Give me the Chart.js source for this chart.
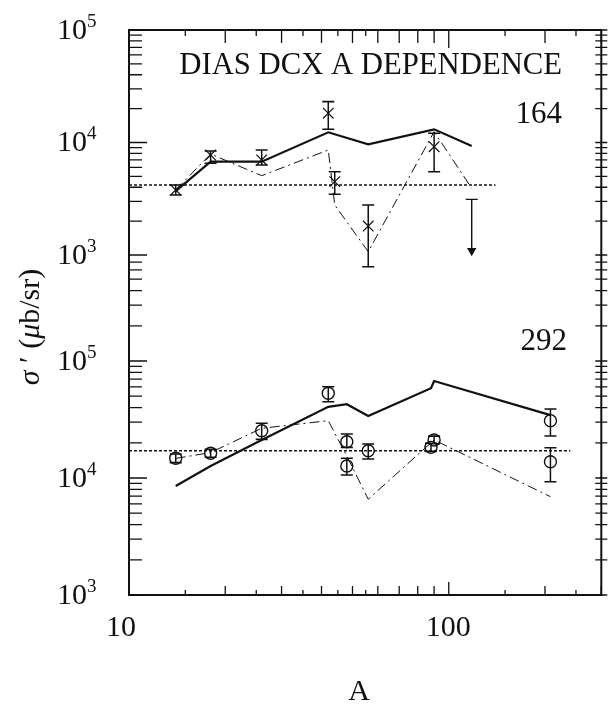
<!DOCTYPE html>
<html>
<head>
<meta charset="utf-8">
<script src="https://cdn.jsdelivr.net/npm/chart.js@4.4.0/dist/chart.umd.min.js"></script>
<style>
html, body { margin: 0; padding: 0; background: #fff; }
#wrap { width: 610px; height: 706px; }
</style>
</head>
<body>
<div id="wrap"><canvas id="aDepChart" width="610" height="706"></canvas></div>
<script>
// ---- upper panel (164) ----
const topA      = [14, 18, 26, 42, 44, 56, 90];
const topSig    = [3786, 7740, 6990, 18200, 4490, 1810, 9180];
const topLo     = [3415, 6530, 6310, 13100, 3470, 787, 5500];
const topHi     = [4190, 8400, 8580, 23070, 5500, 2780, 12080];
const topLimA   = [118, 118];
const topLimSig = [3125, 1090];          // cap, arrow head

const topSolidA = [14, 18, 26, 42, 56, 90, 118];
const topSolid  = [3700, 6750, 6750, 12320, 9640, 13100, 9310];
const topDashA  = [14, 18, 26, 42, 44, 56, 90, 118];
const topDash   = [3786, 7900, 5070, 8580, 2780, 1070, 12470, 3920];
const topFlatA  = [10, 140];
const topFlat   = [4190, 4190];

// ---- lower panel (292) ----
const botA      = [14, 18, 26, 42, 48, 48, 56, 88, 90, 208, 208];
const botSig    = [14730, 16260, 25340, 52960, 20400, 12660, 17100, 18280, 21150, 30900, 13770];
const botLo     = [13520, 15030, 21400, 44870, 18280, 10620, 14520, 16900, 19600, 22860, 9290];
const botHi     = [16030, 17580, 29350, 60260, 23770, 14730, 19500, 19800, 22800, 38900, 18150];

const botSolidA = [14, 18, 26, 42, 48, 56, 88, 90, 208];
const botSolid  = [8550, 12660, 21150, 40600, 42700, 33900, 58450, 67400, 34500];
const botDashA  = [14, 18, 26, 42, 48, 56, 90, 208];
const botDash   = [14700, 16500, 26600, 30900, 15400, 6580, 21150, 6920];
const botFlatA  = [10, 240];
const botFlat   = [17100, 17100];

// ---- axes ----
const xTicks      = [15, 20, 25, 30, 35, 40, 45, 50, 55, 60, 70, 80, 90, 100, 150, 200, 250, 300];
const xTickLabels = [10, 100];
const topDecades  = [3, 4, 5];
const topTickMax  = 1e5;
const botDecades  = [3, 4, 5];
const botTickMax  = 7e5;
const topExpLabels = [5, 4, 3];
const botExpLabels = [5, 4, 3];

let _pts = (xs, ys) => xs.map((x, i) => ({x: x, y: ys[i]}));
let _bars = function(xs, lo, hi) {
	let out = [];
	xs.forEach((x, i) => { out.push({x: x, y: lo[i]}, {x: x, y: hi[i]}, {x: x, y: null}); });
	return out;
};
let _ticks = function(decades, max) {
	let out = [];
	decades.forEach(d => {
		for (let k = 1; k <= 9; k++) {
			let v = k * Math.pow(10, d);
			if (v <= max * 1.0001) out.push(v);
		}
	});
	return out;
};

const SERIF = '"Liberation Serif", "DejaVu Serif", serif';

// frame, inward ticks and texts
const frameTicks = {
	id: 'frameTicks',
	afterDraw(chart) {
		const ctx = chart.ctx, a = chart.chartArea;
		const sx = chart.scales.x, yT = chart.scales.yT, yB = chart.scales.yB;
		ctx.save();
		ctx.strokeStyle = '#111';
		ctx.lineWidth = 2;
		ctx.strokeRect(a.left, a.top, a.right - a.left, a.bottom - a.top);

		ctx.lineWidth = 1.3;
		ctx.beginPath();
		xTicks.forEach(v => {
			const px = sx.getPixelForValue(v);
			const major = v === 100;
			const short = v < 100 ? v % 10 === 5 : v % 100 === 50;
			const lb = major ? 13 : (short ? 5 : 9);
			const lt = major ? 18 : (short ? 6 : 13);
			ctx.moveTo(px, a.bottom); ctx.lineTo(px, a.bottom - lb);
			ctx.moveTo(px, a.top);    ctx.lineTo(px, a.top + lt);
		});
		const yTick = (scale, v) => {
			const py = scale.getPixelForValue(v);
			const major = Math.abs(Math.log10(v) - Math.round(Math.log10(v))) < 1e-6;
			ctx.moveTo(a.left, py);      ctx.lineTo(a.left + (major ? 18 : 13), py);
			ctx.moveTo(a.right - 6, py); ctx.lineTo(a.right + 6, py);
		};
		_ticks(topDecades, topTickMax).forEach(v => yTick(yT, v));
		_ticks(botDecades, botTickMax).forEach(v => yTick(yB, v));
		ctx.stroke();

		ctx.fillStyle = '#111';
		// y tick labels 10^n
		const expLabel = (scale, n) => {
			const py = scale.getPixelForValue(Math.pow(10, n));
			ctx.font = '30px ' + SERIF;
			ctx.textAlign = 'left';
			ctx.textBaseline = 'middle';
			ctx.fillText('10', 57, py + 1);
			const w = ctx.measureText('10').width;
			ctx.font = '19px ' + SERIF;
			ctx.textBaseline = 'alphabetic';
			ctx.fillText(String(n), 57 + w, py - 3);
		};
		topExpLabels.forEach(n => expLabel(yT, n));
		botExpLabels.forEach(n => expLabel(yB, n));

		// x tick labels
		ctx.font = '30px ' + SERIF;
		ctx.textAlign = 'left';
		ctx.textBaseline = 'middle';
		xTickLabels.forEach(v => ctx.fillText(String(v), sx.getPixelForValue(v) - 23, 628));

		// axis title A
		ctx.textAlign = 'center';
		ctx.fillText('A', 359, 692);

		// panel texts
		ctx.textAlign = 'right';
		let title = 'DIAS DCX A DEPENDENCE';
		ctx.font = '30px ' + SERIF;
		let fs = 30 * 383 / ctx.measureText(title).width;
		ctx.font = fs.toFixed(1) + 'px ' + SERIF;
		ctx.fillText(title, 562, 66);
		ctx.font = '31px ' + SERIF;
		ctx.fillText('164', 562, 115);
		ctx.fillText('292', 567, 342);

		// y title, rotated
		const runs = [
			{t: 'σ', f: 'italic 30px '},
			{t: ' ′ (', f: '30px '},
			{t: 'μ', f: 'italic 30px '},
			{t: 'b/sr)', f: '30px '}
		];
		let total = 0;
		runs.forEach(r => { ctx.font = r.f + SERIF; r.w = ctx.measureText(r.t).width; total += r.w; });
		ctx.translate(31, 327);
		ctx.rotate(-Math.PI / 2);
		ctx.textAlign = 'left';
		ctx.textBaseline = 'middle';
		let cx = -total / 2;
		runs.forEach(r => { ctx.font = r.f + SERIF; ctx.fillText(r.t, cx, 0); cx += r.w; });
		ctx.restore();
	}
};

let _line = (data, axis, width, dash) => ({
	data: data, yAxisID: axis, showLine: true, borderColor: '#111',
	borderWidth: width, borderDash: dash, pointRadius: 0, fill: false
});

new Chart(document.getElementById('aDepChart'), {
	type: 'scatter',
	data: {
		datasets: [
			// markers
			{data: _pts(topA, topSig), yAxisID: 'yT', pointStyle: 'crossRot', pointRadius: 7.5,
				borderColor: '#111', pointBorderWidth: 1.2, showLine: false},
			{data: _pts(botA, botSig), yAxisID: 'yB', pointStyle: 'circle', pointRadius: 6,
				borderColor: '#111', backgroundColor: 'rgba(0,0,0,0)', pointBorderWidth: 1.4, showLine: false},
			// error bars
			{data: _bars(topA, topLo, topHi), yAxisID: 'yT', showLine: true, spanGaps: false,
				borderColor: '#111', borderWidth: 1.5, pointStyle: 'line', pointRadius: 6, pointBorderWidth: 1.6},
			{data: _bars(botA, botLo, botHi), yAxisID: 'yB', showLine: true, spanGaps: false,
				borderColor: '#111', borderWidth: 1.5, pointStyle: 'line', pointRadius: 6, pointBorderWidth: 1.6},
			// upper limit
			{data: _pts(topLimA, topLimSig), yAxisID: 'yT', showLine: true, borderColor: '#111', borderWidth: 1.4,
				pointStyle: ['line', 'triangle'], pointRotation: [0, 180], pointRadius: [6, 4],
				backgroundColor: '#111', pointBorderWidth: 1.4},
			// curves
			_line(_pts(topSolidA, topSolid), 'yT', 2.2, []),
			_line(_pts(topDashA, topDash), 'yT', 1, [10, 4, 2, 4]),
			_line(_pts(topFlatA, topFlat), 'yT', 1.3, [3, 2]),
			_line(_pts(botSolidA, botSolid), 'yB', 2.2, []),
			_line(_pts(botDashA, botDash), 'yB', 1, [10, 4, 2, 4]),
			_line(_pts(botFlatA, botFlat), 'yB', 1.3, [3, 2])
		]
	},
	options: {
		responsive: false,
		animation: false,
		devicePixelRatio: 1,
		layout: { padding: { left: 129, right: 5, top: 30, bottom: 111 } },
		plugins: { legend: { display: false }, tooltip: { enabled: false } },
		scales: {
			x:  { type: 'logarithmic', min: 10, max: 300, display: false },
			yT: { type: 'logarithmic', min: 0.95, max: 1e5, display: false, position: 'left' },
			yB: { type: 'logarithmic', min: 1000, max: 6.745e7, display: false, position: 'left' }
		}
	},
	plugins: [frameTicks]
});
</script>
</body>
</html>
